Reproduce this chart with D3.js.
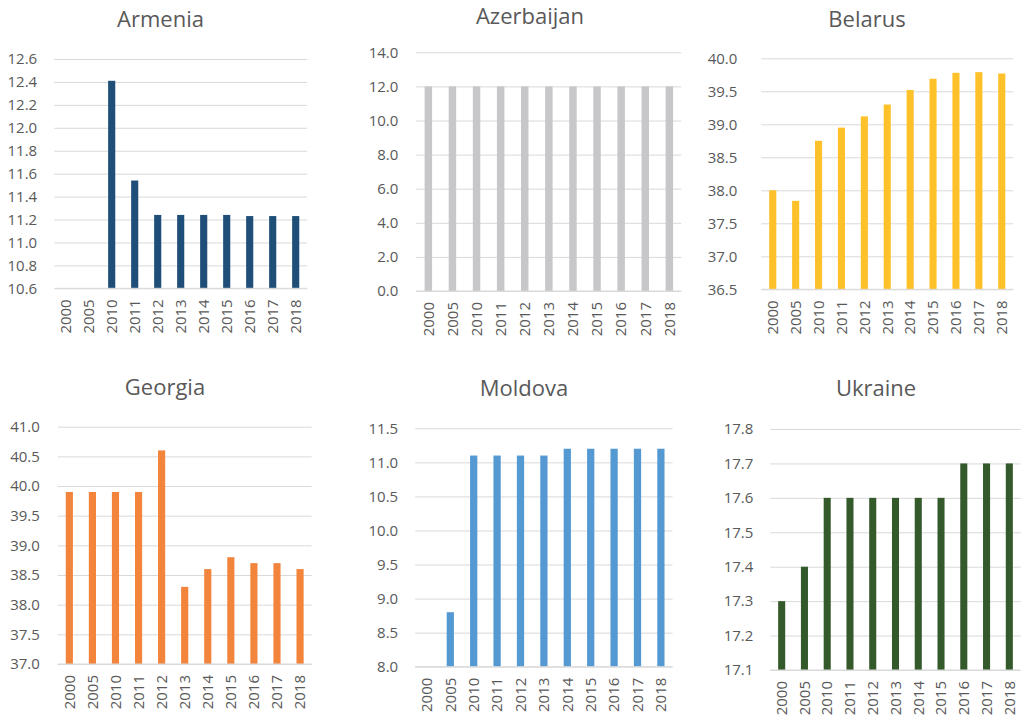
<!DOCTYPE html>
<html>
<head>
<meta charset="utf-8">
<script src="https://cdn.jsdelivr.net/npm/d3@7"></script>
<style>
  html, body { margin: 0; padding: 0; background: #ffffff; }
  svg { display: block; }
  text { font-family: "Open Sans", "Noto Sans", sans-serif; fill: #595959; }
</style>
</head>
<body>
<svg id="chart" width="1022" height="719"></svg>
<script>
// Shared categories (years)
const years = ["2000", "2005", "2010", "2011", "2012", "2013", "2014", "2015", "2016", "2017", "2018"];

// Country names, one panel each
const countries = ["Armenia", "Azerbaijan", "Belarus", "Georgia", "Moldova", "Ukraine"];

// Series values per country (null = no bar)
const armenia    = [null, null, 12.41, 11.54, 11.24, 11.24, 11.24, 11.24, 11.23, 11.23, 11.23];
const azerbaijan = [12.0, 12.0, 12.0, 12.0, 12.0, 12.0, 12.0, 12.0, 12.0, 12.0, 12.0];
const belarus    = [38.0, 37.84, 38.75, 38.95, 39.12, 39.30, 39.52, 39.69, 39.78, 39.79, 39.77];
const georgia    = [39.9, 39.9, 39.9, 39.9, 40.6, 38.3, 38.6, 38.8, 38.7, 38.7, 38.6];
const moldova    = [null, 8.8, 11.1, 11.1, 11.1, 11.1, 11.2, 11.2, 11.2, 11.2, 11.2];
const ukraine    = [17.3, 17.4, 17.6, 17.6, 17.6, 17.6, 17.6, 17.6, 17.7, 17.7, 17.7];
const seriesValues = [armenia, azerbaijan, belarus, georgia, moldova, ukraine];

// Y-axis tick labels per panel
const armeniaTicks    = [10.6, 10.8, 11.0, 11.2, 11.4, 11.6, 11.8, 12.0, 12.2, 12.4, 12.6];
const azerbaijanTicks = [0, 2, 4, 6, 8, 10, 12, 14];
const belarusTicks    = [36.5, 37.0, 37.5, 38.0, 38.5, 39.0, 39.5, 40.0];
const georgiaTicks    = [37.0, 37.5, 38.0, 38.5, 39.0, 39.5, 40.0, 40.5, 41.0];
const moldovaTicks    = [8.0, 8.5, 9.0, 9.5, 10.0, 10.5, 11.0, 11.5];
const ukraineTicks    = [17.1, 17.2, 17.3, 17.4, 17.5, 17.6, 17.7, 17.8];
const tickSets = [armeniaTicks, azerbaijanTicks, belarusTicks, georgiaTicks, moldovaTicks, ukraineTicks];

// Bar colours
const barColors = ["#1F4E79", "#C7C7C9", "#FFC12A", "#F3843C", "#5599D3", "#345A2B"];

// Panel geometry: plot box, tick-label offset, title position
const layout = [
  { left: 54.2,  right: 307.2,  top: 59,    bottom: 288.3, labelGap: 17, titleX: 160.5, titleY: 26.7 },
  { left: 416.3, right: 681.4,  top: 52.3,  bottom: 291,   labelGap: 18, titleX: 530,   titleY: 23.5 },
  { left: 761.3, right: 1013.2, top: 58.3,  bottom: 289.3, labelGap: 24, titleX: 867,   titleY: 26.7 },
  { left: 57.8,  right: 311.6,  top: 426.7, bottom: 664,   labelGap: 18, titleX: 165,   titleY: 395 },
  { left: 415.2, right: 672.6,  top: 428.3, bottom: 666.7, labelGap: 17, titleX: 524,   titleY: 396 },
  { left: 770.3, right: 1020.7, top: 429,   bottom: 670,   labelGap: 17, titleX: 876,   titleY: 396 }
];

const svg = d3.select("#chart");
const fmt = d3.format(".1f");

countries.forEach((name, i) => {
  const box = layout[i];
  const ticks = tickSets[i];
  const values = seriesValues[i];
  const width = box.right - box.left;
  const g = svg.append("g").attr("transform", `translate(${box.left},0)`);

  const x = d3.scaleBand()
    .domain(years)
    .range([0, width])
    .paddingInner(0.69)
    .paddingOuter(0.345);

  const y = d3.scaleLinear()
    .domain([d3.min(ticks), d3.max(ticks)])
    .range([box.bottom, box.top]);

  // Horizontal gridlines with value labels
  const yAxis = d3.axisLeft(y)
    .tickValues(ticks)
    .tickFormat(fmt)
    .tickSize(-width)
    .tickPadding(box.labelGap);

  const ya = g.append("g").call(yAxis);
  ya.select(".domain").remove();
  ya.selectAll(".tick line").attr("stroke", "#d9d9d9").attr("stroke-width", 1);
  ya.selectAll(".tick text")
    .attr("fill", "#595959")
    .style("font-size", "15px")
    .style("font-family", '"Open Sans", sans-serif');

  // Bars
  g.append("g")
    .selectAll("rect")
    .data(years.map((yr, k) => ({ yr, v: values[k] })).filter(d => d.v !== null))
    .join("rect")
    .attr("x", d => x(d.yr))
    .attr("width", x.bandwidth())
    .attr("y", d => y(d.v))
    .attr("height", d => y.range()[0] - y(d.v))
    .attr("fill", barColors[i]);

  // Baseline
  g.append("line")
    .attr("x1", 0).attr("x2", width)
    .attr("y1", box.bottom).attr("y2", box.bottom)
    .attr("stroke", "#d9d9d9");

  // Rotated year labels
  g.append("g")
    .selectAll("text")
    .data(years)
    .join("text")
    .attr("transform", d => `translate(${x(d) + x.bandwidth() / 2},${box.bottom + 11}) rotate(-90)`)
    .attr("text-anchor", "end")
    .attr("dy", "0.35em")
    .style("font-size", "15px")
    .text(d => d);

  // Panel title
  svg.append("text")
    .attr("x", box.titleX)
    .attr("y", box.titleY)
    .attr("text-anchor", "middle")
    .style("font-size", "22px")
    .text(name);
});
</script>
</body>
</html>
